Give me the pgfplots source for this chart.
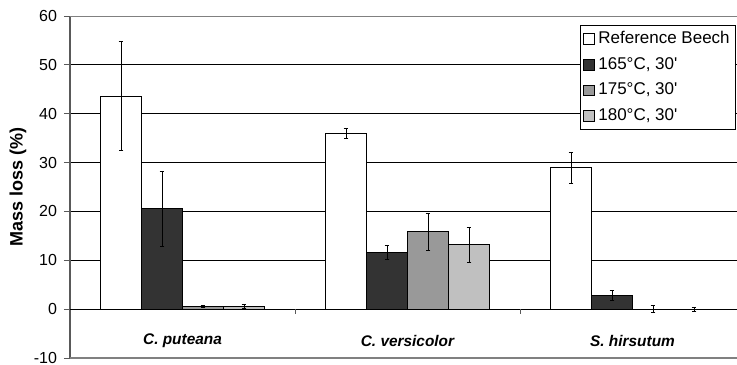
\documentclass[border=0pt]{standalone}
\usepackage{pgfplots}
\pgfplotsset{compat=1.18}
\usepackage{fontspec}
\setmainfont{Liberation Sans}
\definecolor{cA}{HTML}{333333}
\definecolor{cB}{HTML}{999999}
\definecolor{cC}{HTML}{C0C0C0}
\begin{document}
\begin{tikzpicture}
\useasboundingbox (0,0) rectangle (368.5pt,182pt);
\begin{axis}[
  at={(35pt,3pt)}, anchor=south west,
  scale only axis, width=333.5pt, height=171pt,
  xmin=-0.5, xmax=2.4644, ymin=-10, ymax=60,
  ytick={-10,0,...,60},
  ymajorgrids, grid style={black, line width=0.5pt},
  axis y line*=left,
  y axis line style={black!65, line width=0.6pt},
  x axis line style={draw=none},
  tick align=outside, major tick length=3pt,
  ytick style={black!65, line width=0.5pt},
  xtick={0,1,2},
  xticklabels={C. puteana, C. versicolor, S. hirsutum},
  x tick style={draw=none},
  xticklabel style={font=\bfseries\itshape\fontsize{7.7}{9}\selectfont, anchor=center, yshift=11.5pt},
  yticklabel style={font=\fontsize{8}{9}\selectfont},
  /pgf/number format/assume math mode=true,
  ylabel={Mass loss (\%)},
  ylabel style={font=\bfseries\fontsize{9}{10}\selectfont, at={(axis description cs:-0.078,0.5)}, anchor=center},
  ybar=0pt, bar width=20.5pt,
  legend style={at={(1,1)}, anchor=north east, yshift=-4.5pt, xshift=-0.4pt, draw=black, line width=0.5pt,
    font=\fontsize{8.5}{10}\selectfont, inner sep=1pt, row sep=1.3pt},
  legend cell align=left,
  legend image code/.code={\draw[#1, line width=0.4pt] (0pt,-2.7pt) rectangle (5.4pt,2.7pt);},
  error bars/error bar style={black, line width=0.5pt},
  error bars/error mark options={rotate=90, mark size=1.2pt, black, line width=0.5pt},
]
\addplot[fill=white, draw=black, line width=0.5pt, error bars/.cd, y dir=both, y explicit]
  table[x=x, y=y, y error=e] {
x y e
0 43.6 11.1
1 36.0 1.0
2 28.9 3.1
};
\addplot[fill=cA, draw=black, line width=0.5pt, error bars/.cd, y dir=both, y explicit]
  table[x=x, y=y, y error=e] {
x y e
0 20.5 7.6
1 11.6 1.4
2 2.8 1.1
};
\addplot[fill=cB, draw=black, line width=0.5pt, error bars/.cd, y dir=both, y explicit]
  table[x=x, y=y, y error=e] {
x y e
0 0.5 0.15
1 15.8 3.8
2 0.0 0.7
};
\addplot[fill=cC, draw=black, line width=0.5pt, error bars/.cd, y dir=both, y explicit]
  table[x=x, y=y, y error=e] {
x y e
0 0.6 0.4
1 13.2 3.6
2 0.0 0.4
};
\legend{{Reference Beech}, {165°C, 30\textquotesingle}, {175°C, 30\textquotesingle}, {180°C, 30\textquotesingle}}
\draw[black, line width=0.6pt] (axis cs:-0.5,0) -- (axis cs:2.4644,0);
\draw[black!65, line width=0.5pt] (axis cs:0.5,0) -- ([yshift=-2.5pt]axis cs:0.5,0);
\draw[black!65, line width=0.5pt] (axis cs:1.5,0) -- ([yshift=-2.5pt]axis cs:1.5,0);
\draw[black!50, line width=0.6pt] (rel axis cs:0,1) -- (rel axis cs:1,1);
\draw[black!50, line width=0.6pt] (rel axis cs:0,0) -- (rel axis cs:1,0);
\end{axis}
\end{tikzpicture}
\end{document}
